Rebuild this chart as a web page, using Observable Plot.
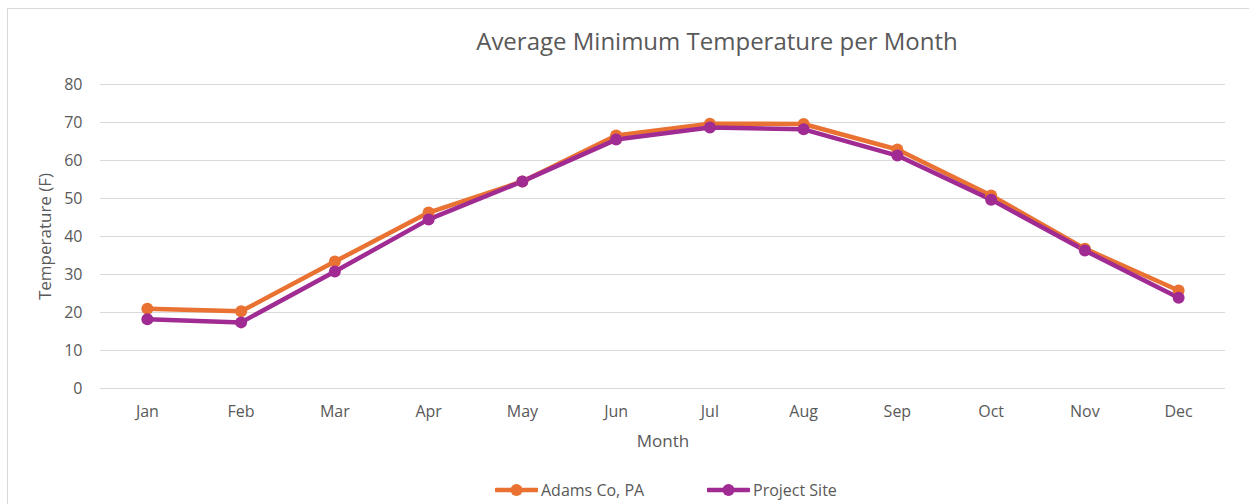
<!DOCTYPE html>
<html>
<head>
<meta charset="utf-8">
<script src="https://cdn.jsdelivr.net/npm/d3@7"></script>
<script src="https://cdn.jsdelivr.net/npm/@observablehq/plot@0.6"></script>
<style>
  html, body { margin: 0; padding: 0; background: #fff; }
  #wrap { position: relative; width: 1249px; height: 504px; overflow: hidden; font-family: "Open Sans", sans-serif; }
  #frame { position: absolute; left: 7px; top: 8px; width: 1400px; height: 600px; border: 1px solid #d9d9d9; box-sizing: border-box; }
  #title { position: absolute; top: 24px; left: 0; width: 1434px; text-align: center; font-size: 24px; color: #595959; font-weight: 400; }
  #chart { position: absolute; left: 0; top: 0; }
  .leg { position: absolute; top: 479px; display: flex; align-items: center; font-size: 16px; color: #595959; }
  .leg svg { margin-right: 3px; }
</style>
</head>
<body>
<div id="wrap">
  <div id="frame"></div>
  <div id="chart"></div>
  <div id="title">Average Minimum Temperature per Month</div>
  <div id="legend"></div>
</div>
<script>
const months = ["Jan","Feb","Mar","Apr","May","Jun","Jul","Aug","Sep","Oct","Nov","Dec"];
const adams = [21.0, 20.3, 33.4, 46.3, 54.5, 66.6, 69.7, 69.6, 62.9, 50.8, 36.8, 25.8];
const project = [18.2, 17.4, 30.8, 44.5, 54.5, 65.5, 68.7, 68.2, 61.3, 49.7, 36.3, 23.9];
const yTicks = [0, 10, 20, 30, 40, 50, 60, 70, 80];
const seriesNames = ["Adams Co, PA", "Project Site"];
const seriesColors = ["#E97132", "#A02B93"];

const rows = [];
[adams, project].forEach((vals, si) => {
  vals.forEach((v, i) => rows.push({month: months[i], value: v, series: seriesNames[si]}));
});

const W = 1249, H = 460;
const chart = Plot.plot({
  width: W,
  height: H,
  marginLeft: 100,
  marginRight: 24,
  marginTop: 84,
  marginBottom: H - 388,
  style: { fontFamily: "'Open Sans', sans-serif", background: "transparent" },
  x: { type: "point", domain: months, padding: 0.5, round: false },
  y: { domain: [0, 80] },
  color: { domain: seriesNames, range: seriesColors },
  marks: [
    Plot.ruleY(yTicks, { stroke: "#d9d9d9", strokeWidth: 1 }),
    Plot.axisY({ ticks: yTicks, tickSize: 0, tickPadding: 18, fontSize: 16, fill: "#595959", label: null }),
    Plot.axisX({ tickSize: 0, tickPadding: 17, fontSize: 16, fill: "#595959", label: null }),
    Plot.text(["Temperature (F)"], { frameAnchor: "left", dx: -55, rotate: -90, textAnchor: "middle", lineAnchor: "middle", fontSize: 17, fill: "#595959" }),
    Plot.text(["Month"], { frameAnchor: "bottom", dy: 53, textAnchor: "middle", lineAnchor: "middle", fontSize: 17, fill: "#595959" }),
    Plot.line(rows, { x: "month", y: "value", z: "series", stroke: "series", strokeWidth: 4.5, strokeLinejoin: "round", strokeLinecap: "round" }),
    Plot.dot(rows, { x: "month", y: "value", fill: "series", r: 6, stroke: "none" })
  ]
});
document.getElementById("chart").appendChild(chart);

// Legend
const legend = document.getElementById("legend");
const legLefts = [495, 707];
seriesNames.forEach((name, i) => {
  const d = document.createElement("div");
  d.className = "leg";
  d.style.left = legLefts[i] + "px";
  d.innerHTML = `<svg width="43" height="22"><line x1="1" y1="11" x2="42" y2="11" stroke="${seriesColors[i]}" stroke-width="4.5" stroke-linecap="round"/><circle cx="21.5" cy="11" r="6" fill="${seriesColors[i]}"/></svg><span>${name}</span>`;
  legend.appendChild(d);
});
</script>
</body>
</html>
